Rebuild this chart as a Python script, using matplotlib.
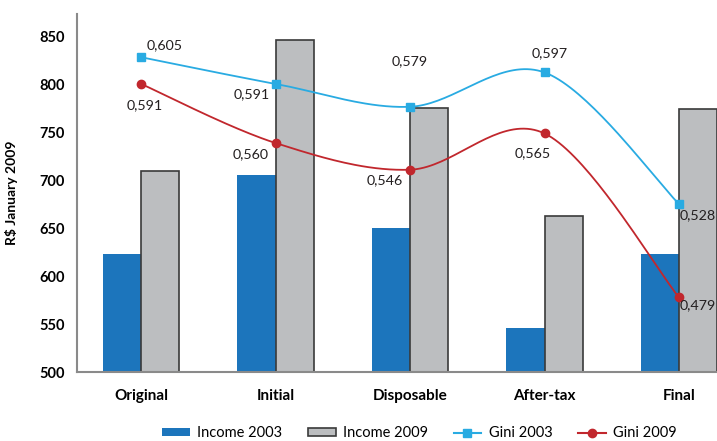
import matplotlib
matplotlib.use("Agg")
import matplotlib.pyplot as plt
import numpy as np

categories = ["Original", "Initial", "Disposable", "After-tax", "Final"]
income_2003 = [623, 705, 650, 546, 623]
income_2009 = [709, 846, 775, 663, 774]
gini_2003 = [0.605, 0.591, 0.579, 0.597, 0.528]
gini_2009 = [0.591, 0.560, 0.546, 0.565, 0.479]

blue = "#1c75bc"
grey = "#bcbec0"
cyan = "#29abe2"
red = "#c1272d"

plt.rcParams['font.family'] = ['Lato', 'DejaVu Sans']


def smooth(xs, ys, n=40):
   # cubic bezier through the points (catmull-rom style tangents)
   p = np.column_stack([xs, ys]).astype(float)
   t = np.zeros_like(p)
   t[1:-1] = (p[2:] - p[:-2]) / 2
   t[0] = (p[1] - p[0]) / 2
   t[-1] = (p[-1] - p[-2]) / 2
   out = []
   s = np.linspace(0, 1, n)[:, None]
   for i in range(len(p) - 1):
      b0, b3 = p[i], p[i + 1]
      b1 = b0 + t[i] / 3
      b2 = b3 - t[i + 1] / 3
      seg = (1 - s)**3 * b0 + 3 * (1 - s)**2 * s * b1 + 3 * (1 - s) * s**2 * b2 + s**3 * b3
      out.append(seg if i == 0 else seg[1:])
   out = np.vstack(out)
   return out[:, 0], out[:, 1]


fig = plt.figure(figsize=(7.17, 4.41), dpi=100)
ax = fig.add_axes([77 / 717, 69 / 441, 640 / 717, 358 / 441])

x = np.arange(len(categories))
w = 0.285
ax.bar(x - w / 2, income_2003, w, color=blue, label="Income 2003", zorder=2)
ax.bar(x + w / 2, income_2009, w, color=grey, edgecolor="#3a3a3a", linewidth=1.2,
       label="Income 2009", zorder=2)

ax.set_xlim(-0.476, 4.282)
ax.set_ylim(500, 873)
ax.set_yticks([500, 550, 600, 650, 700, 750, 800, 850])
ax.set_xticks(x)
ax.set_xticklabels(categories, fontweight="bold", fontsize=11)
for lab in ax.get_yticklabels():
   lab.set_fontweight("bold")
   lab.set_fontsize(10.5)
ax.tick_params(length=0)
ax.tick_params(axis="x", pad=12)
ax.tick_params(axis="y", pad=9)
for side in ["top", "right"]:
   ax.spines[side].set_visible(False)
for side in ["left", "bottom"]:
   ax.spines[side].set_color("#8a8a8a")
   ax.spines[side].set_linewidth(1.5)
ax.set_ylabel("R$ January 2009", fontweight="bold", fontsize=10)
ax.yaxis.set_label_coords(-0.092, 0.5)

# gini on a hidden second axis
ax2 = ax.twinx()
k = 1987.0
ax2.set_ylim(0.528 + (500 - 675) / k, 0.528 + (873 - 675) / k)
ax2.set_xlim(ax.get_xlim())
ax2.axis("off")

sx, sy = smooth(x, gini_2003)
ax2.plot(sx, sy, color=cyan, lw=1.3, zorder=3)
ax2.plot(x, gini_2003, "s", color=cyan, ms=6, zorder=4)
sx, sy = smooth(x, gini_2009)
ax2.plot(sx, sy, color=red, lw=1.3, zorder=3)
ax2.plot(x, gini_2009, "o", color=red, ms=6, zorder=4)

off_2003 = [((6, 12), "left"), ((-6, -10), "right"), ((0, 46), "center"),
            ((5, 19), "center"), ((1, -11), "left")]
off_2009 = [((4, -21), "center"), ((-7, -11), "right"), ((-7, -10), "right"),
            ((-12, -20), "center"), ((1, -8), "left")]
for i in range(len(categories)):
   for vals, offs in [(gini_2003, off_2003), (gini_2009, off_2009)]:
      v = vals[i]
      (dx, dy), ha = offs[i]
      ax2.annotate(f"{v:.3f}".replace(".", ","), (x[i], v), xytext=(dx, dy),
                   textcoords="offset pixels", ha=ha, va="center", fontsize=10.3,
                   color="#231f20", zorder=5)

handles = [
   plt.Rectangle((0, 0), 1, 1, facecolor=blue),
   plt.Rectangle((0, 0), 1, 1, facecolor=grey, edgecolor="#3a3a3a", linewidth=1.2),
   plt.Line2D([], [], color=cyan, lw=1.5, marker="s", ms=6),
   plt.Line2D([], [], color=red, lw=1.5, marker="o", ms=6),
]
labels = ["Income 2003", "Income 2009", "Gini 2003", "Gini 2009"]
fig.legend(handles, labels, loc="center", bbox_to_anchor=(0.585, 0.018), ncol=4,
           frameon=False, fontsize=10.5, handlelength=1.9, handleheight=0.45,
           columnspacing=1.75, handletextpad=0.5)

fig.savefig("out.png", dpi=100)
